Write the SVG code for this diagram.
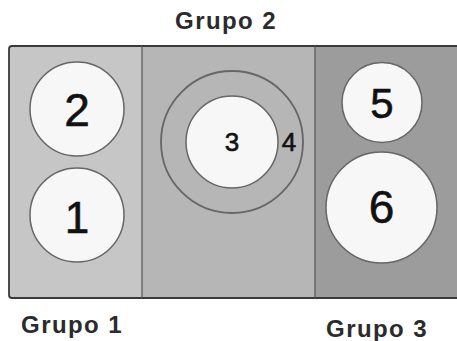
<svg xmlns="http://www.w3.org/2000/svg" width="457" height="341" viewBox="0 0 457 341">
<style>
.lbl{font-family:"Liberation Sans",Arial,sans-serif;font-weight:bold;font-size:24px;fill:#2b2b2b;letter-spacing:1.4px;text-anchor:middle}
.num{font-family:"Liberation Sans",Arial,sans-serif;fill:#111;text-anchor:middle;stroke:#111;stroke-width:0.6}
.node{fill:#f7f7f7;stroke:#666;stroke-width:1.5}
.ring{fill:none;stroke:#666;stroke-width:1.8}
.div{stroke:#555;stroke-width:1.2}
</style>
<rect width="457" height="341" fill="#ffffff"/>
<g id="panels">
<rect x="9" y="46" width="133" height="252" fill="#c6c6c6"/>
<rect x="142" y="46" width="173" height="252" fill="#b6b6b6"/>
<rect x="315" y="46" width="145" height="252" fill="#9c9c9c"/>
<rect x="9" y="46" width="460" height="252" rx="3" fill="none" stroke="#3a3a3a" stroke-width="1.8"/>
<line class="div" x1="142" y1="46" x2="142" y2="298"/>
<line class="div" x1="315" y1="46" x2="315" y2="298"/>
</g>
<g id="group-labels">
<text class="lbl" x="226" y="29">Grupo 2</text>
<text class="lbl" x="72" y="333">Grupo 1</text>
<text class="lbl" x="377" y="337">Grupo 3</text>
</g>
<g id="node-2"><circle class="node" cx="77" cy="109" r="47"/><text class="num" x="77" y="126" font-size="46">2</text></g>
<g id="node-1"><circle class="node" cx="77" cy="215" r="47"/><text class="num" x="77" y="233" font-size="44">1</text></g>
<g id="node-4"><circle class="ring" cx="232" cy="142" r="71"/><text class="num" x="289" y="151" font-size="26">4</text></g>
<g id="node-3"><circle class="node" cx="232" cy="142" r="46" stroke="none"/><text class="num" x="232" y="151" font-size="26">3</text></g>
<g id="node-5"><circle class="node" cx="382" cy="102.5" r="40"/><text class="num" x="382" y="118" font-size="42">5</text></g>
<g id="node-6"><circle class="node" cx="381.5" cy="207.5" r="55.5"/><text class="num" x="381.5" y="223" font-size="46">6</text></g>
<g id="connectors"/>
</svg>
